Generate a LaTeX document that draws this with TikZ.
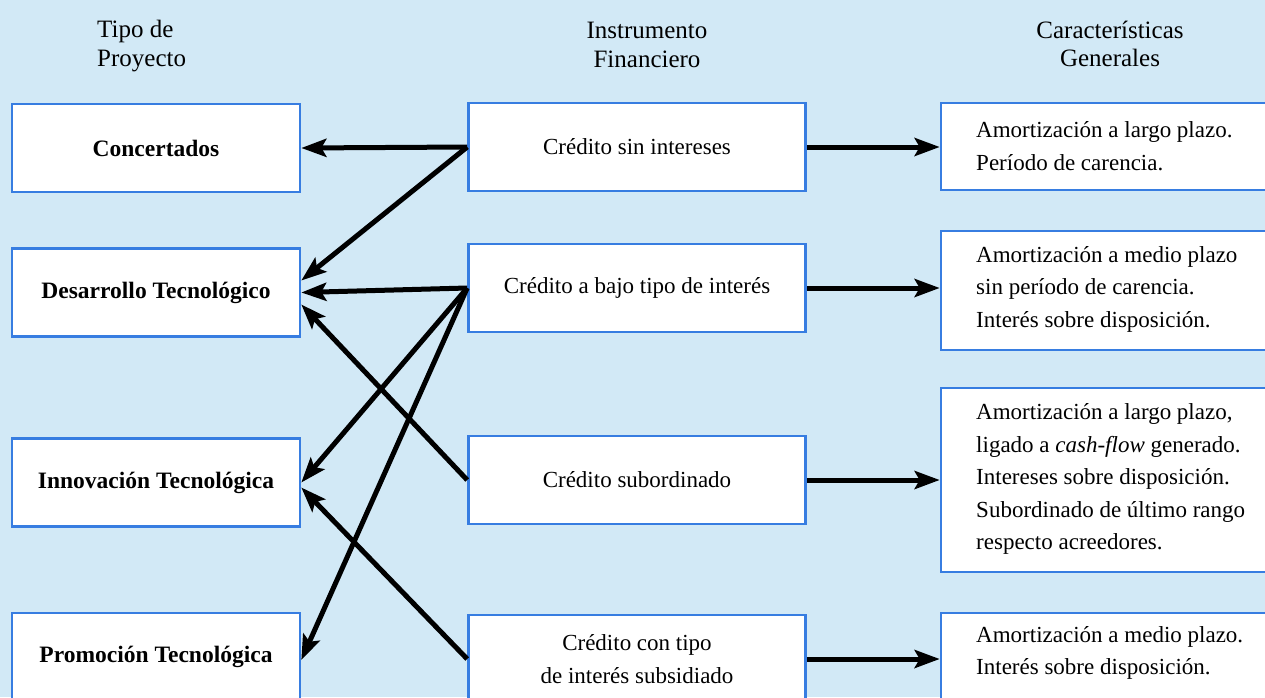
\documentclass[tikz,border=0pt]{standalone}
\usepackage{fontspec}
\setmainfont{Liberation Serif}
\usetikzlibrary{arrows.meta,calc}
\definecolor{bg}{RGB}{210,233,246}
\definecolor{bord}{RGB}{55,125,225}
\begin{document}
\begin{tikzpicture}[x=1pt,y=-1pt,
  box/.style={draw=bord,line width=2.6pt,fill=white,inner sep=0pt,align=center,
              font=\fontsize{23}{32.5}\selectfont},
  lbox/.style={box,minimum width=288pt,minimum height=88pt,
              font=\fontsize{23.5}{28}\selectfont\bfseries},
  mbox/.style={box,minimum width=337pt,minimum height=88pt},
  rbox/.style={box,minimum width=339pt},
  rtext/.style={anchor=west,inner sep=0pt,align=left,font=\fontsize{23}{32.5}\selectfont},
  hdr/.style={inner sep=0pt,font=\fontsize{25}{28.5}\selectfont},
  arr/.style={line width=5pt,-{Stealth[length=25pt,width=18pt,inset=5pt]}}]
\useasboundingbox (0,0) rectangle (1265,697);
\fill[bg] (0,0) rectangle (1265,697);
\begin{scope}
\clip (0,0) rectangle (1265,697);
% headers
\node[hdr,anchor=west,align=left] (h1) at (97,46) {Tipo de\\Proyecto};
\node[hdr,align=center] (h2) at (647,45) {Instrumento\\Financiero};
\node[hdr,align=center] (h3) at (1110,44) {Características\\Generales};
% left boxes
\node[lbox] (L1) at (156,148) {Concertados};
\node[lbox] (L2) at (156,292.5) {Desarrollo Tecnológico};
\node[lbox] (L3) at (156,482.5) {Innovación Tecnológica};
\node[lbox] (L4) at (156,657) {Promoción Tecnológica};
% middle boxes
\node[mbox] (M1) at (637,147) {Crédito sin intereses};
\node[mbox] (M2) at (637,288) {Crédito a bajo tipo de interés};
\node[mbox] (M3) at (637,480) {Crédito subordinado};
\node[mbox] (M4) at (637,659) {Crédito con tipo\\de interés subsidiado};
% right boxes
\node[rbox,minimum height=87pt] (R1) at (1110.5,146.5) {};
\node[rbox,minimum height=119pt] (R2) at (1110.5,290.5) {};
\node[rbox,minimum height=184pt] (R3) at (1110.5,480) {};
\node[rbox,minimum height=87pt] (R4) at (1110.5,656.5) {};
\node[rtext] (R1t) at (976,146) {Amortización a largo plazo.\\Período de carencia.};
\node[rtext] (R2t) at (976,289) {Amortización a medio plazo\\sin período de carencia.\\Interés sobre disposición.};
\node[rtext] (R3t) at (976,479) {Amortización a largo plazo,\\ligado a \textit{cash-flow} generado.\\Intereses sobre disposición.\\Subordinado de último rango\\respecto acreedores.};
\node[rtext] (R4t) at (976,653) {Amortización a medio plazo.\\Interés sobre disposición.};
% arrows to the left
\draw[arr] (M1.west) -- (L1.east);
\draw[arr] (M1.west) -- ($(L2.east)+(0,-12)$);
\draw[arr] (M2.west) -- (L2.east);
\draw[arr] (M2.west) -- (L3.east);
\draw[arr] (M2.west) -- ($(L4.east)+(0,3)$);
\draw[arr] (M3.west) -- ($(L2.east)+(0,12)$);
\draw[arr] (M4.west) -- ($(L3.east)+(0,5)$);
% arrows to the right
\draw[arr] (M1.east) -- (M1.east -| R1.west);
\draw[arr] (M2.east) -- (M2.east -| R2.west);
\draw[arr] (M3.east) -- (M3.east -| R3.west);
\draw[arr] (M4.east) -- (M4.east -| R4.west);
\end{scope}
\end{tikzpicture}
\end{document}
